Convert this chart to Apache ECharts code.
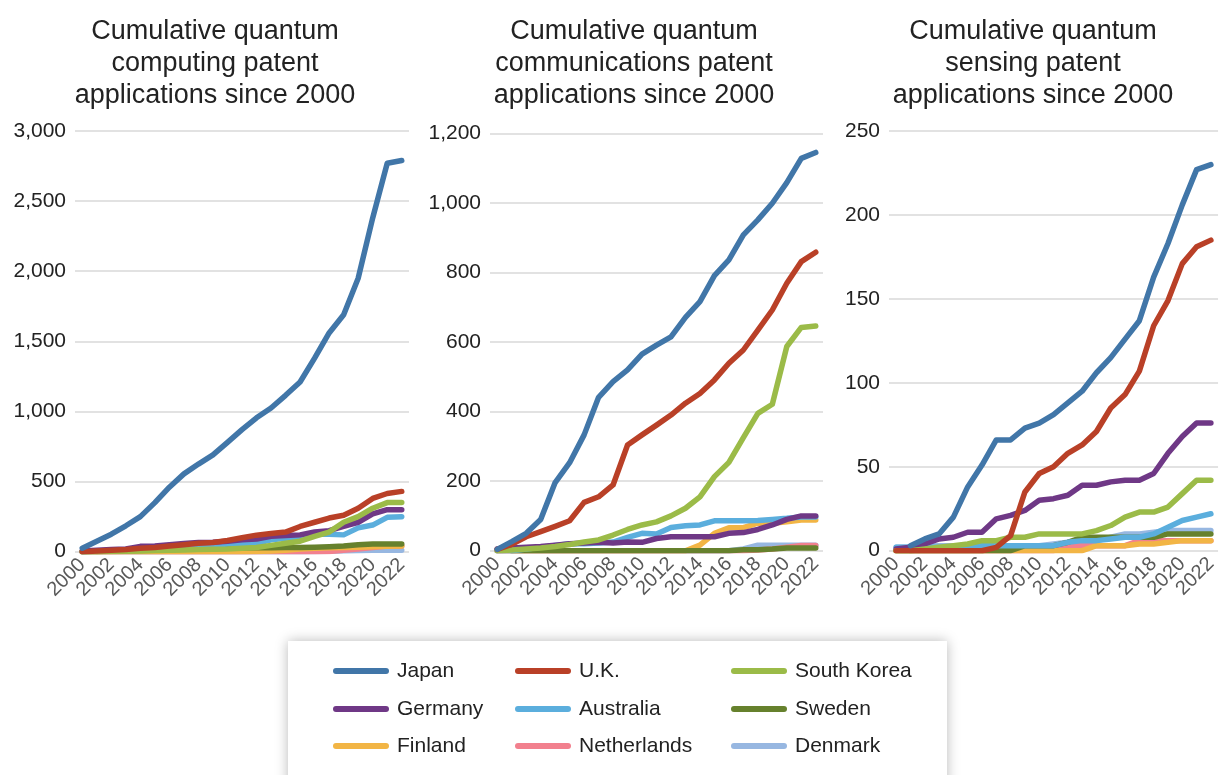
<!DOCTYPE html>
<html>
<head>
<meta charset="utf-8">
<script src="https://cdn.jsdelivr.net/npm/echarts@6/dist/echarts.min.js"></script>
<style>
html,body{margin:0;padding:0;background:#fff;}
#chart{width:1220px;height:775px;}
</style>
</head>
<body>
<div id="chart"></div>
<script>
// ---------- data ----------
const years = ['2000','2001','2002','2003','2004','2005','2006','2007','2008','2009','2010','2011','2012','2013','2014','2015','2016','2017','2018','2019','2020','2021','2022'];

const panelTitles = [
  'Cumulative quantum\ncomputing patent\napplications since 2000',
  'Cumulative quantum\ncommunications patent\napplications since 2000',
  'Cumulative quantum\nsensing patent\napplications since 2000'
];

const countries = ['Japan','U.K.','South Korea','Germany','Australia','Sweden','Finland','Netherlands','Denmark'];
const countryColors = ['#4176A8','#B94027','#9BBB48','#6F3886','#5BAEDD','#66812D','#F2B545','#F2808E','#97B7E1'];

// Quantum computing
const compJapan       = [25,75,125,185,250,350,460,555,625,690,780,870,955,1025,1115,1210,1380,1560,1690,1950,2380,2770,2790];
const compUK          = [0,5,10,15,25,30,40,50,60,65,80,100,118,130,140,180,210,240,260,310,380,415,430];
const compSouthKorea  = [0,0,2,3,5,8,10,12,15,18,20,25,30,45,60,75,110,140,210,250,310,350,350];
const compGermany     = [5,10,15,20,38,40,50,58,65,68,75,85,90,110,115,120,140,150,180,210,270,300,300];
const compAustralia   = [0,3,5,10,15,22,30,35,40,48,55,58,60,85,95,105,125,125,120,170,190,245,250];
const compSweden      = [0,2,5,8,10,12,15,18,20,22,25,28,28,28,30,30,32,35,40,50,55,55,55];
const compFinland     = [0,0,0,0,0,0,0,0,0,0,0,0,2,5,10,20,25,28,30,32,35,38,40];
const compNetherlands = [0,0,0,0,0,0,0,0,0,0,0,0,0,0,0,0,0,2,10,20,30,40,40];
const compDenmark     = [null,0,0,0,0,0,0,0,0,0,0,0,0,0,0,0,2,4,6,8,10,10,10];

// Quantum communications
const commJapan       = [4,26,50,90,196,253,333,441,486,520,565,591,615,671,716,791,836,908,951,999,1058,1128,1145];
const commUK          = [4,18,40,55,70,86,139,155,189,304,333,361,390,424,452,491,539,577,634,692,769,831,858];
const commSouthKorea  = [0,2,5,8,12,18,25,31,45,61,74,83,100,122,155,213,254,325,395,421,587,642,646];
const commGermany     = [5,8,10,12,16,20,22,24,22,25,24,35,40,40,40,40,50,52,61,74,90,100,100];
const commAustralia   = [0,0,5,10,15,20,20,22,25,38,50,48,67,72,74,86,86,86,87,90,93,97,97];
const commSweden      = [null,0,0,0,0,0,0,0,0,0,0,0,0,0,0,0,0,3,3,5,8,8,8];
const commFinland     = [0,0,0,0,0,0,0,0,0,0,0,0,0,0,16,50,66,66,79,79,83,88,88];
const commNetherlands = [0,0,0,0,0,0,0,0,0,0,0,0,0,0,0,0,0,0,2,5,10,15,15];
const commDenmark     = [0,0,0,0,0,0,0,0,0,0,0,0,0,0,0,0,0,5,16,16,16,16,16];

// Quantum sensing
const sensJapan       = [null,3,7,10,20,38,51,66,66,73,76,81,88,95,106,115,126,137,163,183,206,227,230];
const sensUK          = [0,0,0,0,0,0,0,2,9,35,46,50,58,63,71,85,93,107,134,149,171,181,185];
const sensSouthKorea  = [0,0,1,2,3,4,6,6,8,8,10,10,10,10,12,15,20,23,23,26,34,42,42];
const sensGermany     = [1,2,4,7,8,11,11,19,21,24,30,31,33,39,39,41,42,42,46,58,68,76,76];
const sensAustralia   = [2,2,2,2,2,2,3,3,3,3,3,3,5,6,6,7,8,8,10,14,18,20,22];
const sensSweden      = [0,0,0,0,0,0,0,0,0,3,3,3,5,8,8,8,8,8,8,10,10,10,10];
const sensFinland     = [0,0,0,0,0,0,0,0,0,0,0,0,0,0,3,3,3,4,4,5,6,6,6];
const sensNetherlands = [null,0,0,0,0,0,0,0,0,0,0,0,3,3,3,3,3,6,6,6,6,6,6];
const sensDenmark     = [2,2,3,3,3,3,3,3,3,3,3,4,5,5,6,8,10,10,11,12,12,12,12];

const yMax = [3000, 1200, 250];
const yStep = [500, 200, 50];

const panelData = [
  [compJapan, compUK, compSouthKorea, compGermany, compAustralia, compSweden, compFinland, compNetherlands, compDenmark],
  [commJapan, commUK, commSouthKorea, commGermany, commAustralia, commSweden, commFinland, commNetherlands, commDenmark],
  [sensJapan, sensUK, sensSouthKorea, sensGermany, sensAustralia, sensSweden, sensFinland, sensNetherlands, sensDenmark]
];

// ---------- layout ----------
const FONT = '"Liberation Sans", Arial, Helvetica, sans-serif';
const grids = [
  {left: 75,  top: 131,   width: 334, height: 420.7},
  {left: 490, top: 133.3, width: 333, height: 417.4},
  {left: 889, top: 131,   width: 333, height: 419.7}
];
const titleCenters = [215, 634, 1033];

const chart = echarts.init(document.getElementById('chart'), null, {renderer: 'canvas'});

const xAxes = grids.map((g, i) => ({
  type: 'category', gridIndex: i, data: years, boundaryGap: true,
  axisLine: {show: false}, axisTick: {show: false},
  axisLabel: {interval: 1, rotate: 45, margin: 10, fontSize: 20, color: '#595959', fontFamily: FONT}
}));
const yAxes = grids.map((g, i) => ({
  type: 'value', gridIndex: i, min: 0, max: yMax[i], interval: yStep[i],
  axisLine: {show: false}, axisTick: {show: false},
  splitLine: {lineStyle: {color: '#d9d9d9', width: 1.5}},
  axisLabel: {margin: 9, fontSize: 21, color: '#222', fontFamily: FONT,
    formatter: v => v.toLocaleString('en-US')}
}));

const drawOrder = [8, 7, 6, 5, 4, 3, 2, 1, 0];
const series = [];
for (let p = 0; p < 3; p++) {
  drawOrder.forEach((c, k) => {
    series.push({
      type: 'line', name: countries[c], xAxisIndex: p, yAxisIndex: p,
      data: panelData[p][c], symbol: 'none', smooth: false, z: 2 + k,
      color: countryColors[c],
      lineStyle: {width: 5.5, color: countryColors[c], cap: 'round', join: 'round'},
      emphasis: {disabled: true}, silent: true
    });
  });
}

const legendCols = [333, 515, 731];
const legendRows = [659, 697, 734];
const legends = countries.map((name, i) => ({
  data: [name],
  left: legendCols[i % 3], top: legendRows[Math.floor(i / 3)],
  icon: 'path://M3,0 L53,0 A3,3 0 0 1 53,6 L3,6 A3,3 0 0 1 3,0 Z',
  itemWidth: 56, itemHeight: 6, padding: 0,
  selectedMode: false,
  textStyle: {fontSize: 21, color: '#222', fontFamily: FONT, lineHeight: 24, padding: [0, 0, 0, 3]}
}));

const graphics = [
  {type: 'rect', z: -10, shape: {x: 288, y: 641, width: 659, height: 160},
   style: {fill: '#fff', shadowBlur: 12, shadowColor: 'rgba(0,0,0,0.28)', shadowOffsetY: 0}}
].concat(panelTitles.map((t, i) => ({
  type: 'text', x: titleCenters[i], y: 16, z: 10,
  style: {text: t, align: 'center', verticalAlign: 'top', fontSize: 27, fontFamily: FONT,
          lineHeight: 32, fill: '#222'}
})));

chart.setOption({
  backgroundColor: '#fff',
  animation: false,
  grid: grids,
  xAxis: xAxes,
  yAxis: yAxes,
  legend: legends,
  graphic: graphics,
  series: series
});
</script>
</body>
</html>
